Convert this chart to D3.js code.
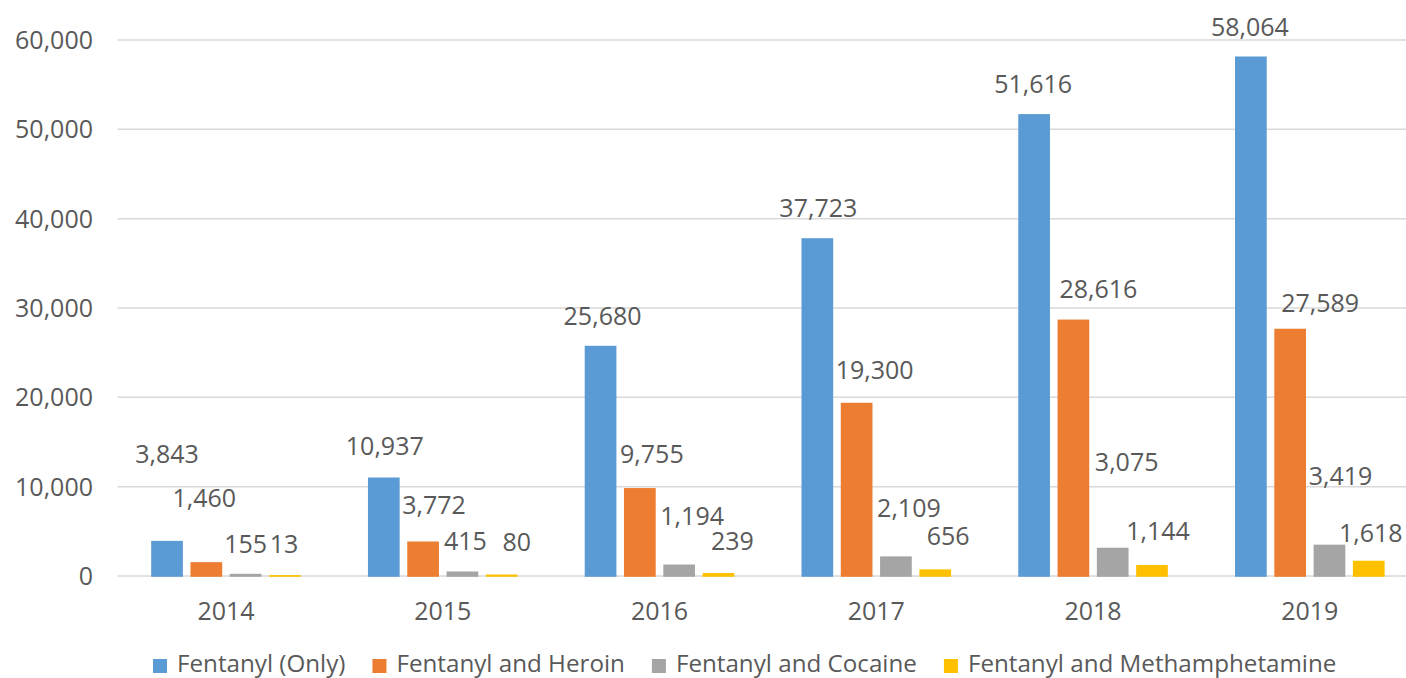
<!DOCTYPE html>
<html>
<head>
<meta charset="utf-8">
<script src="https://cdn.jsdelivr.net/npm/d3@7"></script>
<style>
  html, body { margin: 0; padding: 0; background: #ffffff; }
  svg { display: block; }
  text { font-family: "Open Sans", "Noto Sans", sans-serif; fill: #595959; }
</style>
</head>
<body>
<svg id="chart" width="1406" height="678"></svg>
<script>
// ---- data ----
const years = ["2014", "2015", "2016", "2017", "2018", "2019"];
const seriesNames = ["Fentanyl (Only)", "Fentanyl and Heroin", "Fentanyl and Cocaine", "Fentanyl and Methamphetamine"];
const fentanylOnly = [3843, 10937, 25680, 37723, 51616, 58064];
const fentanylHeroin = [1460, 3772, 9755, 19300, 28616, 27589];
const fentanylCocaine = [155, 415, 1194, 2109, 3075, 3419];
const fentanylMeth = [13, 80, 239, 656, 1144, 1618];
const yTicks = [0, 10000, 20000, 30000, 40000, 50000, 60000];

// ---- label placement nudges (layout only, pixels) ----
const labelNudgeX = [
  [0, 1, 2, 1, -1, -1],
  [-2, 11, 12, 18, 25, 30],
  [0, 3, 13, 13, 14, 11],
  [-1, 15, 14, 13, 6, 2]
];
const labelNudgeY = [
  [-57, -1, 0, 0, 0, 1],
  [-34, -6, -4, -3, 0, 4],
  [0, 0, -18, -18, -56, -38],
  [-1, -2, -2, -3, -4, 2]
];

const colors = ["#5B9BD5", "#ED7D31", "#A5A5A5", "#FFC000"];
const seriesValues = [fentanylOnly, fentanylHeroin, fentanylCocaine, fentanylMeth];

const svg = d3.select("#chart");

const x0 = d3.scaleBand().domain(years).range([117.6, 1418.2]).paddingInner(0).paddingOuter(0);
const x1 = d3.scaleBand().domain(seriesNames).range([0, x0.bandwidth()]).paddingInner(0.234).paddingOuter(0.875);
const y = d3.scaleLinear().domain([0, 60000]).range([576, 40]);
const fmt = d3.format(",");

// gridlines
svg.append("g")
  .selectAll("line")
  .data(yTicks)
  .join("line")
  .attr("x1", 117.6)
  .attr("x2", 1418.2)
  .attr("y1", d => y(d))
  .attr("y2", d => y(d))
  .attr("stroke", "#D9D9D9")
  .attr("stroke-width", 1.5);

// y axis labels
const yAxis = d3.axisLeft(y).tickValues(yTicks).tickFormat(fmt).tickSize(0).tickPadding(0);
const yg = svg.append("g").attr("transform", "translate(93,0)").call(yAxis);
yg.select(".domain").remove();
yg.selectAll("text").attr("font-size", 25).attr("fill", "#595959")
  .style("font-family", '"Open Sans", sans-serif').attr("dy", "0.34em");

// x axis labels
const xAxis = d3.axisBottom(x0).tickSize(0).tickPadding(0);
const xg = svg.append("g").attr("transform", "translate(0,620)").call(xAxis);
xg.select(".domain").remove();
xg.selectAll("text").attr("font-size", 25).attr("fill", "#595959")
  .style("font-family", '"Open Sans", sans-serif').attr("dy", "0").attr("y", 0);

// bars
const rows = [];
seriesNames.forEach((s, si) => {
  years.forEach((yr, yi) => {
    rows.push({ series: s, si, year: yr, yi, value: seriesValues[si][yi] });
  });
});

svg.append("g")
  .selectAll("rect")
  .data(rows)
  .join("rect")
  .attr("x", d => x0(d.year) + x1(d.series))
  .attr("width", x1.bandwidth())
  .attr("y", d => y(d.value))
  .attr("height", d => y(0) - y(d.value))
  .attr("fill", d => colors[d.si])
  .attr("stroke", d => colors[d.si])
  .attr("stroke-width", 1.6);

// data labels
svg.append("g")
  .selectAll("text")
  .data(rows)
  .join("text")
  .attr("x", d => x0(d.year) + x1(d.series) + x1.bandwidth() / 2 + labelNudgeX[d.si][d.yi])
  .attr("y", d => y(d.value) - 22 + labelNudgeY[d.si][d.yi])
  .attr("text-anchor", "middle")
  .attr("font-size", 25)
  .text(d => fmt(d.value));

// legend
const legend = svg.append("g").attr("transform", "translate(153,0)");
let cx = 0;
seriesNames.forEach((s, i) => {
  const g = legend.append("g").attr("transform", `translate(${cx},0)`);
  g.append("rect").attr("x", 0).attr("y", 659).attr("width", 14).attr("height", 14).attr("fill", colors[i]);
  const t = g.append("text").attr("x", 24).attr("y", 672).attr("font-size", 24.2).text(s);
  const w = t.node().getComputedTextLength();
  cx += 24 + w + 27;
});
</script>
</body>
</html>
